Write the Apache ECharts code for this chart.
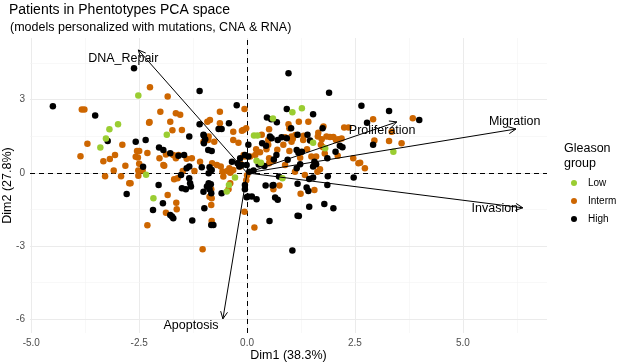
<!DOCTYPE html>
<html>
<head>
<meta charset="utf-8">
<script src="https://cdn.jsdelivr.net/npm/echarts@6/dist/echarts.min.js"></script>
<style>
  html, body { margin: 0; padding: 0; background: #fff; }
  #chart { width: 617px; height: 363px; }
</style>
</head>
<body>
<div id="chart"></div>
<script>
// patients projected on Dim1 / Dim2, one array per Gleason group
const lowPts = [
  [-2.52, 3.17], [-2.99, 2.00], [-3.19, 1.79], [-3.27, 1.41], [-3.40, 1.04], [-2.34, -0.07],
  [-1.86, 1.57], [0.16, 1.53], [0.24, 1.53], [-0.28, -0.19], [-0.42, -0.49], [-0.47, -0.76],
  [-2.17, -1.04], [0.22, 0.50], [0.32, 0.42], [0.82, -0.22], [1.27, 2.65], [1.05, 2.49],
  [0.60, 2.23], [1.53, 1.24], [1.81, 1.01], [3.39, 0.87]
];
const intermPts = [
  [-3.83, 2.60], [-3.77, 2.60], [-3.70, 1.20], [-2.89, 1.15], [-2.27, 2.06], [-2.25, 3.51],
  [-3.86, 0.68], [-3.33, 0.48], [-3.18, 0.57], [-3.06, 0.74], [-2.55, 0.90], [-2.50, 0.90],
  [-2.58, 0.66], [-2.53, 0.63], [-2.31, 0.82], [-2.50, 0.38], [-2.82, 0.29], [-3.09, 0.10],
  [-2.52, 0.10], [-2.42, 0.10], [-3.29, -0.14], [-2.92, -0.14], [-2.52, -0.12], [-2.73, -0.42],
  [-2.70, -0.42], [-2.31, -2.14],
  [-1.84, 3.13], [-2.01, 2.51], [-1.65, 2.45], [-1.55, 2.38], [-2.26, 2.09], [-1.78, 2.10],
  [-1.73, 1.75], [-1.51, 1.76], [-0.63, 2.51], [-0.92, 2.10], [-0.86, 2.17], [-0.63, 2.04],
  [-0.32, 1.69], [-0.09, 1.76], [-0.02, 1.83], [-0.06, 2.62], [-1.01, 1.28], [-0.90, 1.35],
  [-0.89, 1.49], [-0.76, 1.28], [-0.32, 1.35], [-0.20, 1.24], [-0.12, 1.73], [-1.88, 0.76],
  [-1.71, 0.74], [-1.65, 0.60], [-1.59, 0.74], [-2.03, 0.60], [-1.92, 0.29], [-1.28, 0.60],
  [-1.09, 0.46], [-0.70, 0.33], [-0.61, 0.26], [-0.41, 0.19], [-0.32, 0.12], [-1.49, 0.08],
  [-1.22, 0.08], [-0.55, -0.15], [-0.39, 0.01], [-1.94, 0.33], [-1.40, 0.58], [-0.81, 0.40],
  [-0.57, 0.06], [-0.46, 0.08], [-0.36, 0.09], [-0.16, 0.40], [-0.16, 0.26], [-0.08, 0.74],
  [-0.05, 0.67], [-1.69, -0.26], [-1.61, -0.22], [-1.84, -0.90], [-1.64, -1.22], [-1.63, -1.49],
  [-1.88, -1.63], [-0.83, -0.67], [-0.87, -0.98], [-0.82, -1.04], [-0.83, -1.31], [-0.82, -1.97],
  [-0.43, -0.67], [-0.39, -0.42], [-1.03, -3.13], [-0.06, -1.59], [0.17, -2.24], [-0.02, -0.30],
  [0.00, -0.10],
  [0.75, -0.52], [1.24, -0.85], [1.56, -0.70], [0.61, -0.67], [0.51, 1.79], [0.96, 2.00],
  [0.98, 1.83], [1.42, 2.10], [1.77, 1.90], [1.65, 1.65], [2.25, 1.86], [2.35, 1.86],
  [0.34, 1.56], [0.49, 1.15], [0.49, 1.35], [0.84, 1.15], [1.03, 1.28], [1.31, 1.52],
  [1.30, 1.35], [1.64, 1.49], [1.73, 1.38], [1.84, 1.49], [1.92, 1.47], [2.00, 1.47],
  [2.06, 1.35], [2.11, 1.38], [2.19, 1.41], [1.71, 1.15], [1.76, 1.05], [2.92, 2.20],
  [3.84, 2.24], [3.35, 1.69], [2.95, 1.33], [3.29, 1.31], [3.58, 1.22], [2.46, 0.60],
  [2.58, 0.40], [2.73, 0.19], [2.62, 0.42], [1.49, 0.67], [1.60, 0.67], [1.69, 0.15],
  [1.63, 0.05], [1.34, -0.08], [1.11, 0.05], [0.88, 0.33], [0.51, 0.60], [0.61, 0.50],
  [0.51, 0.40], [0.21, 0.97], [0.19, 0.74], [0.07, 0.67], [1.06, 1.40], [1.12, 1.55],
  [0.88, 1.46], [1.03, 1.49], [1.20, 2.10], [1.39, 0.97], [0.98, 0.90], [0.30, 0.85],
  [0.45, 0.97], [1.80, 0.80], [2.10, 0.70], [0.70, 0.95], [1.23, 0.62]
];
const highPts = [
  [-4.50, 2.73], [-3.52, 2.35], [-3.23, 1.31], [-2.58, 1.28], [-2.35, 1.35], [-2.41, 0.25],
  [-2.79, -0.86], [-2.62, 4.29], [-1.10, 3.36], [-0.24, 2.77], [-1.34, 1.49], [-1.10, 2.00],
  [-0.42, 2.04], [-0.66, 1.80], [-0.59, 1.80], [-1.00, 1.52], [-2.04, 1.04], [-1.94, 0.94],
  [-1.78, 0.81], [-1.59, 0.70], [-1.46, 0.74], [-1.40, 0.19], [-1.34, 0.26], [-1.05, 0.23],
  [-0.87, 0.23], [-0.82, 0.12], [-0.35, 0.46], [-0.22, 0.40], [-0.18, 0.26], [-1.01, 1.56],
  [-0.97, 1.38], [-1.00, 1.22], [-0.90, 0.94], [-0.82, 0.90], [0.03, 1.15], [-0.89, -0.01],
  [-2.05, -0.49], [-1.53, -0.08], [-1.34, -0.22], [-1.32, -0.42], [-1.30, -0.56], [-1.51, -0.63],
  [-1.42, -0.67], [-1.95, -1.24], [-2.18, -1.52], [-1.78, -1.72], [-1.74, -1.79], [-1.71, -1.86],
  [-1.27, -1.95], [-1.01, -0.77], [-0.93, -0.56], [-0.87, -0.67], [-0.83, -0.83], [-0.99, -1.45],
  [-0.83, -2.13], [-0.78, -2.13], [-0.59, -0.83], [-0.89, -0.42], [-0.84, -0.46], [-0.05, -0.67],
  [0.02, -0.97], [0.11, -0.97], [0.22, -1.08], [-0.01, -1.00], [-0.05, -0.49],
  [1.05, -3.18], [0.52, -1.97], [0.43, -0.52], [0.61, -0.49], [0.65, -1.01], [0.71, -1.10],
  [1.17, -0.44], [1.38, -0.60], [1.42, -0.74], [1.44, -1.39], [1.20, -1.76], [1.79, -1.27],
  [2.00, -1.45], [1.86, -0.49], [1.87, -0.14], [1.53, -0.19], [1.44, -0.25], [2.47, -0.19],
  [0.74, -0.15], [1.17, -1.75], [0.59, -0.52],
  [0.96, 4.09], [1.90, 3.29], [2.65, 2.75], [3.29, 2.54], [2.78, 2.06], [3.99, 2.17],
  [2.92, 1.15], [0.92, 2.62], [1.53, 2.41], [0.46, 2.27], [0.56, 2.20], [0.69, 2.08],
  [1.02, 1.83], [1.75, 1.83], [0.53, 1.49], [0.57, 1.42], [0.71, 1.35], [0.80, 1.46],
  [0.92, 1.42], [0.35, 1.22], [0.44, 1.11], [1.17, 1.56], [1.40, 1.56], [1.46, 1.33],
  [2.05, 0.87], [2.15, 1.11], [2.21, 1.05], [1.15, 0.94], [1.19, 0.83], [1.27, 0.87],
  [1.86, 0.60], [1.23, 0.36], [0.94, 0.54], [1.56, 0.46], [1.60, 0.36], [1.15, 0.19],
  [1.53, 0.26], [1.57, 0.40], [0.15, 0.10], [0.05, 0.05], [-0.16, 0.60], [-0.05, 0.74],
  [0.03, 0.67], [0.27, 0.35], [0.40, 0.28], [-0.12, 0.33], [-0.01, 0.33], [0.68, 0.74],
  [0.62, 0.55]
];

// variable loadings (arrow tips) and where their labels sit
const loadingNames = ['DNA_Repair', 'Proliferation', 'Migration', 'Invasion', 'Apoptosis'];
const loadingX = [-2.52, 3.47, 6.23, 6.39, -0.56];
const loadingY = [5.04, 2.09, 1.80, -1.43, -5.98];
const labelX = [-2.87, 3.13, 6.20, 5.74, -1.30];
const labelY = [4.70, 1.72, 2.10, -1.48, -6.27];

// axis ticks
const xTicks = [-5, -2.5, 0, 2.5, 5];
const xMinor = [-3.75, -1.25, 1.25, 3.75, 6.25];
const yTicks = [-6, -3, 0, 3];
const yMinor = [-4.5, -1.5, 1.5, 4.5];

const font = 'Liberation Sans, Arial, sans-serif';

const gridLines = [];
xTicks.forEach(v => gridLines.push({ xAxis: v, lineStyle: { color: '#EBEBEB', width: 1, type: 'solid' } }));
xMinor.forEach(v => gridLines.push({ xAxis: v, lineStyle: { color: '#F4F4F4', width: 0.6, type: 'solid' } }));
yTicks.forEach(v => gridLines.push({ yAxis: v, lineStyle: { color: '#EBEBEB', width: 1, type: 'solid' } }));
yMinor.forEach(v => gridLines.push({ yAxis: v, lineStyle: { color: '#F4F4F4', width: 0.6, type: 'solid' } }));

const arrowData = loadingNames.map((n, i) => [loadingX[i], loadingY[i], n]);
const labelData = loadingNames.map((n, i) => [labelX[i], labelY[i], n]);

const pointStyle = (color) => ({
  type: 'scatter',
  symbolSize: 6.5,
  itemStyle: { color: color, opacity: 1 },
  z: 3
});

const option = {
  animation: false,
  backgroundColor: '#fff',
  title: [
    { text: 'Patients in Phentotypes PCA space', left: 9, top: 3, padding: 0,
      textStyle: { fontFamily: font, fontSize: 14, fontWeight: 'normal', color: '#000' } },
    { text: '(models personalized with mutations, CNA & RNA)', left: 10, top: 21, padding: 0,
      textStyle: { fontFamily: font, fontSize: 12.5, fontWeight: 'normal', color: '#000' } }
  ],
  graphic: [
    { type: 'text', left: 564, top: 141,
      style: { text: 'Gleason\ngroup', font: '12.5px ' + font, fill: '#000', lineHeight: 15 } }
  ],
  legend: {
    data: ['Low', 'Interm', 'High'],
    orient: 'vertical',
    left: 566,
    top: 173,
    icon: 'circle',
    itemWidth: 18,
    itemHeight: 6,
    itemGap: 8,
    textStyle: { fontFamily: font, fontSize: 10, color: '#000' }
  },
  grid: { left: 30, right: 70, top: 38, bottom: 30, containLabel: false, outerBoundsMode: 'none' },
  xAxis: {
    type: 'value',
    min: -5.03,
    max: 6.95,
    name: 'Dim1 (38.3%)',
    nameLocation: 'middle',
    nameGap: 16,
    nameMoveOverlap: false,
    nameTextStyle: { fontFamily: font, fontSize: 12.5, color: '#000' },
    axisLine: { show: false },
    splitLine: { show: false },
    axisTick: { show: true, customValues: xTicks, length: 3, lineStyle: { color: '#4D4D4D' } },
    axisLabel: { customValues: xTicks, margin: 5, fontFamily: font, fontSize: 10, color: '#4D4D4D',
      formatter: v => v.toFixed(1) }
  },
  yAxis: {
    type: 'value',
    min: -6.56,
    max: 5.53,
    name: 'Dim2 (27.8%)',
    nameLocation: 'middle',
    nameGap: 16,
    nameMoveOverlap: false,
    nameRotate: 90,
    nameTextStyle: { fontFamily: font, fontSize: 12.5, color: '#000' },
    axisLine: { show: false },
    splitLine: { show: false },
    axisTick: { show: true, customValues: yTicks, length: 3, lineStyle: { color: '#4D4D4D' } },
    axisLabel: { customValues: yTicks, margin: 5, fontFamily: font, fontSize: 10, color: '#4D4D4D',
      formatter: v => String(v) }
  },
  series: [
    {
      name: 'grid',
      type: 'scatter',
      data: [],
      silent: true,
      z: 1,
      markLine: {
        silent: true,
        z: 1,
        symbol: 'none',
        label: { show: false },
        data: gridLines
      }
    },
    {
      name: 'zero',
      type: 'scatter',
      data: [],
      silent: true,
      z: 2,
      markLine: {
        silent: true,
        z: 2,
        symbol: 'none',
        label: { show: false },
        lineStyle: { color: '#000', width: 1, type: [5, 4] },
        data: [{ xAxis: 0 }, { yAxis: 0 }]
      }
    },
    Object.assign(pointStyle('#CD6600'), { name: 'Interm', data: intermPts }),
    Object.assign(pointStyle('#000000'), { name: 'High', data: highPts }),
    Object.assign(pointStyle('#9ACD32'), { name: 'Low', data: lowPts }),
    {
      name: 'loadings',
      type: 'custom',
      z: 5,
      silent: true,
      data: arrowData,
      renderItem: function (params, api) {
        const o = api.coord([0, 0]);
        const e = api.coord([api.value(0), api.value(1)]);
        const ang = Math.atan2(e[1] - o[1], e[0] - o[0]);
        const len = 8, spread = Math.PI / 7;
        const p1 = [e[0] - len * Math.cos(ang - spread), e[1] - len * Math.sin(ang - spread)];
        const p2 = [e[0] - len * Math.cos(ang + spread), e[1] - len * Math.sin(ang + spread)];
        return {
          type: 'group',
          children: [
            { type: 'line', shape: { x1: o[0], y1: o[1], x2: e[0], y2: e[1] },
              style: { stroke: '#000', lineWidth: 1 } },
            { type: 'polyline', shape: { points: [p1, e, p2] },
              style: { stroke: '#000', lineWidth: 1, fill: null } }
          ]
        };
      }
    },
    {
      name: 'loadingLabels',
      type: 'custom',
      z: 6,
      silent: true,
      data: labelData,
      renderItem: function (params, api) {
        const p = api.coord([api.value(0), api.value(1)]);
        return {
          type: 'text',
          x: p[0],
          y: p[1],
          style: {
            text: labelData[params.dataIndex][2],
            font: '12.5px ' + font,
            fill: '#000',
            align: 'center',
            verticalAlign: 'middle'
          }
        };
      }
    }
  ]
};

const chart = echarts.init(document.getElementById('chart'), null, { renderer: 'canvas' });
chart.setOption(option);
</script>
</body>
</html>
